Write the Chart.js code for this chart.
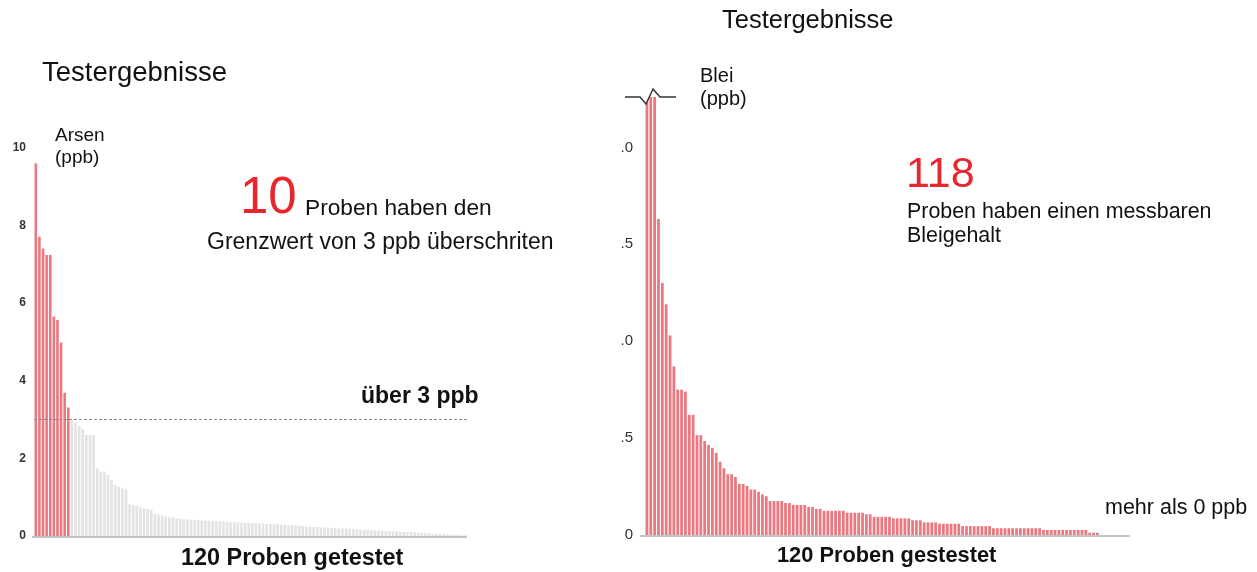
<!DOCTYPE html>
<html>
<head>
<meta charset="utf-8">
<title>Testergebnisse</title>
<script src="https://cdn.jsdelivr.net/npm/chart.js@4.4.0/dist/chart.umd.min.js"></script>
<style>
body { margin: 0; width: 1257px; height: 572px; position: relative; overflow: hidden; background: #fff;
       font-family: "Liberation Sans", Arial, sans-serif; color: #111; }
.t { position: absolute; white-space: nowrap; line-height: 1; }
.red { color: #e8262d; }
.b { font-weight: bold; }
#arsen { position: absolute; left: 0; top: 0; }
#blei { position: absolute; left: 600px; top: 0; }
</style>
</head>
<body>
<canvas id="arsen" width="600" height="572"></canvas>
<canvas id="blei" width="657" height="572"></canvas>

<div class="t" style="left:42px;top:58px;font-size:27.5px;">Testergebnisse</div>
<div class="t" style="left:55px;top:124px;font-size:19px;line-height:22px;">Arsen<br>(ppb)</div>
<div class="t red" style="left:240px;top:170px;font-size:51px;">10</div>
<div class="t" style="left:305px;top:196px;font-size:22.7px;">Proben haben den</div>
<div class="t" style="left:207px;top:230px;font-size:23px;">Grenzwert von 3 ppb überschriten</div>
<div class="t b" style="left:361px;top:384px;font-size:23px;">über 3 ppb</div>
<div class="t b" style="left:181px;top:546px;font-size:23.4px;">120 Proben getestet</div>

<div class="t" style="left:722px;top:7px;font-size:25.5px;">Testergebnisse</div>
<div class="t" style="left:700px;top:64px;font-size:20px;line-height:23px;">Blei<br>(ppb)</div>
<div class="t red" style="left:906px;top:151px;font-size:43px;">118</div>
<div class="t" style="left:907px;top:199px;font-size:21.4px;line-height:24px;">Proben haben einen messbaren<br>Bleigehalt</div>
<div class="t" style="left:1105px;top:497px;font-size:21.5px;">mehr als 0 ppb</div>
<div class="t b" style="left:777px;top:544px;font-size:21.8px;">120 Proben gestestet</div>

<script>
// Arsen, 120 Proben, sortiert (ppb)
const arsenValues = [
    9.59, 7.70, 7.40, 7.23, 7.23, 5.65, 5.56, 4.98, 3.69, 3.31,
    2.97, 2.92, 2.83, 2.75, 2.60, 2.60, 2.60,
    1.74, 1.66, 1.66, 1.57, 1.44, 1.31, 1.27, 1.23, 1.20,
    0.82, 0.80, 0.78, 0.74, 0.71, 0.70, 0.67, 0.58, 0.55, 0.52, 0.50, 0.48, 0.47,
    0.46, 0.45, 0.44, 0.43, 0.42, 0.42, 0.41, 0.40, 0.40, 0.39,
    0.39, 0.38, 0.38, 0.37, 0.37, 0.36, 0.36, 0.35, 0.35, 0.34,
    0.34, 0.33, 0.33, 0.32, 0.32, 0.31, 0.31, 0.30, 0.30, 0.29,
    0.29, 0.28, 0.28, 0.27, 0.27, 0.26, 0.25, 0.24, 0.23, 0.23,
    0.22, 0.22, 0.21, 0.21, 0.20, 0.20, 0.19, 0.19, 0.18, 0.18,
    0.17, 0.17, 0.16, 0.16, 0.15, 0.15, 0.14, 0.14, 0.13, 0.13,
    0.12, 0.12, 0.11, 0.11, 0.10, 0.10, 0.09, 0.09, 0.08, 0.08,
    0.07, 0.06, 0.06, 0.05, 0.05, 0.04, 0.04, 0.03, 0.03, 0.02,
    0.02
];
const arsenLimit = 3;

// Blei, 120 Proben, sortiert (ppb) - die ersten drei laufen oben aus dem Bild
const bleiValues = [
    2.90, 2.70, 2.50, 1.63, 1.30, 1.19, 1.03, 0.87, 0.75, 0.75,
    0.74, 0.62, 0.62, 0.515, 0.515, 0.485, 0.465, 0.45, 0.424, 0.378,
    0.344, 0.314, 0.314, 0.30, 0.263, 0.263, 0.253, 0.235, 0.235, 0.223,
    0.21, 0.20, 0.175, 0.175, 0.175, 0.175, 0.165, 0.165, 0.155, 0.155,
    0.155, 0.155, 0.145, 0.145, 0.135, 0.135, 0.125, 0.125, 0.125, 0.125,
    0.125, 0.125, 0.115, 0.115, 0.115, 0.115, 0.115, 0.107, 0.107, 0.094,
    0.094, 0.094, 0.094, 0.094, 0.086, 0.086, 0.086, 0.086, 0.086, 0.076,
    0.076, 0.076, 0.065, 0.065, 0.065, 0.065, 0.058, 0.058, 0.058, 0.058,
    0.058, 0.058, 0.046, 0.046, 0.046, 0.046, 0.046, 0.046, 0.046, 0.046,
    0.035, 0.035, 0.035, 0.035, 0.035, 0.035, 0.035, 0.035, 0.035, 0.035,
    0.035, 0.035, 0.035, 0.026, 0.026, 0.026, 0.026, 0.026, 0.026, 0.026,
    0.026, 0.026, 0.026, 0.026, 0.026, 0.012, 0.012, 0.012, 0, 0
];
const bleiMax = 2.26;
const bleiTickLabels = ['0', '.5', '.0', '.5', '.0'];

const sampleLabels = arsenValues.map((v, i) => i + 1);

const RED = '#ea7880';
const GREY = '#e3e3e3';

// grey base line under the bars
const baseLine = {
    id: 'baseLine',
    afterDatasetsDraw(chart, args, opts) {
        const a = chart.chartArea, ctx = chart.ctx;
        ctx.save();
        ctx.strokeStyle = '#c4c4c4';
        ctx.lineWidth = 2;
        ctx.beginPath();
        ctx.moveTo(a.left - opts.before, a.bottom + 1);
        ctx.lineTo(a.right + opts.after, a.bottom + 1);
        ctx.stroke();
        ctx.restore();
    }
};

const limitLine = {
    id: 'limitLine',
    afterDatasetsDraw(chart) {
        const a = chart.chartArea, ctx = chart.ctx;
        const y = Math.round(chart.scales.y.getPixelForValue(arsenLimit)) + 0.5;
        ctx.save();
        ctx.strokeStyle = '#8a8a8a';
        ctx.lineWidth = 1;
        ctx.setLineDash([3, 2]);
        ctx.beginPath();
        ctx.moveTo(a.left, y);
        ctx.lineTo(a.right, y);
        ctx.stroke();
        ctx.restore();
    }
};

// axis break mark at the top of the lead chart
const breakMark = {
    id: 'breakMark',
    afterDatasetsDraw(chart) {
        const a = chart.chartArea, ctx = chart.ctx;
        const x = a.left, y = a.top;
        ctx.save();
        ctx.fillStyle = '#fff';
        ctx.beginPath();
        ctx.moveTo(x - 5, y);
        ctx.lineTo(x + 1, y + 7);
        ctx.lineTo(x + 8, y - 8);
        ctx.lineTo(x + 15, y);
        ctx.closePath();
        ctx.fill();
        ctx.strokeStyle = '#333';
        ctx.lineWidth = 1.5;
        ctx.beginPath();
        ctx.moveTo(x - 20, y);
        ctx.lineTo(x - 5, y);
        ctx.lineTo(x + 1, y + 7);
        ctx.lineTo(x + 8, y - 8);
        ctx.lineTo(x + 15, y);
        ctx.lineTo(x + 31, y);
        ctx.stroke();
        ctx.restore();
    }
};

Chart.defaults.font.family = '"Liberation Sans", Arial, sans-serif';
Chart.defaults.animation = false;

new Chart(document.getElementById('arsen'), {
    type: 'bar',
    data: {
        labels: sampleLabels,
        datasets: [{
            data: arsenValues,
            backgroundColor: arsenValues.map(v => v > arsenLimit ? RED : GREY),
            barPercentage: 0.72,
            categoryPercentage: 1
        }]
    },
    options: {
        responsive: false,
        layout: { padding: { top: 147.5, right: 133, bottom: 36, left: 0 } },
        plugins: { legend: { display: false }, tooltip: { enabled: false }, baseLine: { before: 2, after: 0 } },
        scales: {
            x: { display: false },
            y: {
                min: 0,
                max: 10,
                grid: { display: false, drawTicks: false },
                border: { display: false },
                ticks: { stepSize: 2, padding: 8, color: '#333', font: { size: 12, weight: 'bold' } },
                afterFit(scale) { scale.width = 34; }
            }
        }
    },
    plugins: [baseLine, limitLine]
});

new Chart(document.getElementById('blei'), {
    type: 'bar',
    data: {
        labels: sampleLabels,
        datasets: [{
            data: bleiValues,
            backgroundColor: RED,
            barPercentage: 0.72,
            categoryPercentage: 1
        }]
    },
    options: {
        responsive: false,
        layout: { padding: { top: 97, right: 150, bottom: 37, left: 0 } },
        plugins: { legend: { display: false }, tooltip: { enabled: false }, baseLine: { before: 5, after: 23 } },
        scales: {
            x: { display: false },
            y: {
                min: 0,
                max: bleiMax,
                grid: { display: false, drawTicks: false },
                border: { display: false },
                ticks: {
                    stepSize: 0.5,
                    includeBounds: false,
                    padding: 12,
                    color: '#333',
                    font: { size: 15 },
                    callback: (value, index) => bleiTickLabels[index]
                },
                afterFit(scale) { scale.width = 45; }
            }
        }
    },
    plugins: [baseLine, breakMark]
});
</script>
</body>
</html>
